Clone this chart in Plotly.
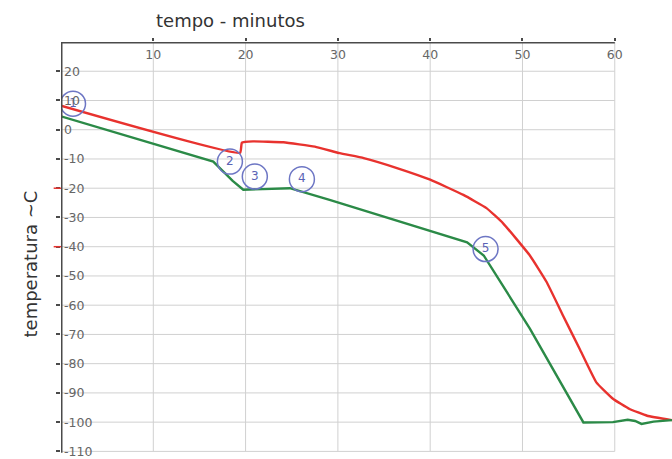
import plotly.graph_objects as go

# ---- data ----
red_t = [0, 19.4, 19.6, 20.8, 24.1, 27.5, 30.2, 32.8, 36.4, 40, 43.6, 46.1, 47.9, 50.8, 52.6, 54.4, 56.2, 58.0, 59.8, 61.6, 63.5, 66.2]
red_T = [8.2, -7.9, -4.4, -4.0, -4.3, -5.8, -8.0, -9.7, -13.1, -17.1, -22.3, -26.8, -32.0, -43.0, -52.0, -63.6, -75.0, -86.4, -92.0, -95.5, -97.8, -99.3]

green_t = [0, 16.5, 18.6, 19.75, 24.8, 29.1, 44.0, 45.8, 50.8, 56.6, 59.8, 61.4, 62.2, 62.9, 64.2, 66.2]
green_T = [4.6, -10.9, -17.5, -20.5, -20.0, -24.0, -38.5, -43.0, -68.0, -100.1, -100.0, -99.2, -99.6, -100.6, -99.8, -99.3]

marker_t = [1.3, 18.3, 21.0, 26.1, 46.0]
marker_T = [8.9, -10.9, -16.0, -16.9, -40.8]
marker_labels = ["1", "2", "3", "4", "5"]

x_ticks = [10, 20, 30, 40, 50, 60]
y_ticks = [20, 10, 0, -10, -20, -30, -40, -50, -60, -70, -80, -90, -100, -110]
red_tick_vals = [-20, -40]

x_max_grid = 60
y_top = 30
y_bottom = -110
y_range_bottom = -112.6

FONT = "DejaVu Sans, Liberation Sans, Arial"

fig = go.Figure()

fig.add_trace(go.Scatter(x=red_t, y=red_T, mode="lines",
                         line=dict(color="#e8322e", width=2.4, shape="spline", smoothing=0.35),
                         hoverinfo="skip"))
fig.add_trace(go.Scatter(x=green_t, y=green_T, mode="lines",
                         line=dict(color="#2b8a47", width=2.4), hoverinfo="skip"))
fig.add_trace(go.Scatter(x=marker_t, y=marker_T, mode="markers+text",
                         text=marker_labels, textposition="middle center",
                         textfont=dict(family=FONT, size=12, color="#5a63b5"),
                         marker=dict(symbol="circle-open", size=25, color="#6d76c4",
                                     line=dict(color="#6d76c4", width=1.5)),
                         hoverinfo="skip"))

shapes = []
# gridlines (only up to x = 60)
for v in x_ticks:
    shapes.append(dict(type="line", xref="x", yref="y", x0=v, x1=v, y0=y_bottom, y1=y_top,
                       line=dict(color="#d0d0d0", width=1), layer="below"))
for v in y_ticks:
    shapes.append(dict(type="line", xref="x", yref="y", x0=0, x1=x_max_grid, y0=v, y1=v,
                       line=dict(color="#d0d0d0", width=1), layer="below"))
# axis lines
shapes.append(dict(type="line", xref="x", yref="y", x0=0, x1=x_max_grid, y0=y_top, y1=y_top,
                   line=dict(color="#4a4a4a", width=3)))
shapes.append(dict(type="line", xref="x", yref="y", x0=0, x1=0, y0=y_bottom - 0.5, y1=y_top,
                   line=dict(color="#4a4a4a", width=3)))
# red marks on the y axis
for v in red_tick_vals:
    shapes.append(dict(type="line", xref="paper", yref="y", x0=-0.012, x1=0.0, y0=v, y1=v,
                       line=dict(color="#e8322e", width=1.5)))

fig.update_layout(
    width=672, height=459,
    margin=dict(l=61, r=0, t=42, b=0),
    paper_bgcolor="white", plot_bgcolor="white",
    showlegend=False,
    shapes=shapes,
    font=dict(family=FONT, color="#555"),
    xaxis=dict(range=[0, 66.2], side="top", tickvals=x_ticks,
               ticktext=[str(v) for v in x_ticks],
               ticklabelposition="inside", ticklabelstandoff=5,
               ticks="outside", ticklen=3,
               tickcolor="#4a4a4a", tickwidth=1.5,
               showgrid=False, zeroline=False, showline=False,
               tickfont=dict(family=FONT, size=12.5, color="#666")),
    yaxis=dict(range=[y_range_bottom, y_top], tickvals=y_ticks,
               ticktext=[str(v) for v in y_ticks],
               ticklabelposition="inside", ticks="outside", ticklen=4,
               tickcolor="#4a4a4a", tickwidth=1.5,
               showgrid=False, zeroline=False, showline=False,
               tickfont=dict(family=FONT, size=12.5, color="#666")),
    annotations=[
        dict(text="tempo - minutos", xref="paper", yref="paper", x=0.2766, y=1.0,
             xanchor="center", yanchor="middle", yshift=22, showarrow=False,
             font=dict(family=FONT, size=18, color="#333")),
        dict(text="temperatura ~C", xref="paper", yref="paper", x=0, y=0.5,
             xanchor="center", yanchor="middle", xshift=-31, yshift=-14, textangle=-90,
             showarrow=False, font=dict(family=FONT, size=18, color="#333")),
    ],
)

fig.write_html("out.html")
